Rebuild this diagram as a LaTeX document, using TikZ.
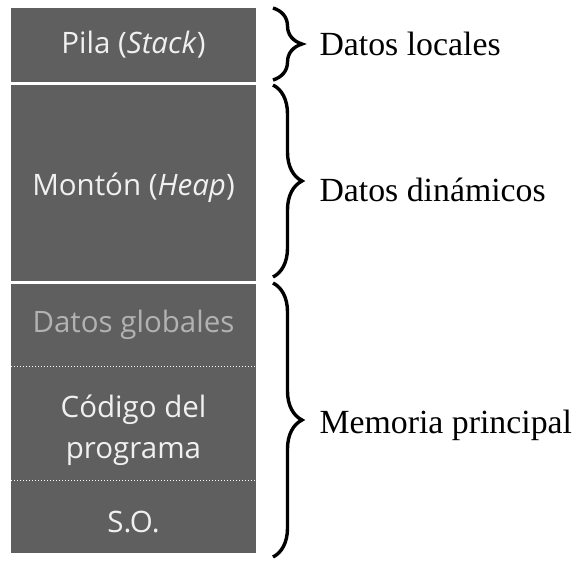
\documentclass[tikz,border=0pt]{standalone}
\usepackage{fontspec}
\setmainfont{Liberation Serif}
\newfontfamily\boxfont{Open Sans}
\usetikzlibrary{decorations.pathreplacing}
\definecolor{memgray}{HTML}{5F5F5F}
\definecolor{dimtext}{HTML}{B2B2B2}

\begin{document}
\begin{tikzpicture}[x=1pt,y=-1pt,
    block/.style={fill=memgray},
    blocktext/.style={text=white!94!black,align=center,
        font=\boxfont\fontsize{29.5}{41}\selectfont},
    curly/.style={decorate,decoration={brace,amplitude=29pt,aspect=0.5},
        line width=3.4pt},
    zone/.style={anchor=west,font=\fontsize{33.8}{40}\selectfont}]

    \useasboundingbox (0,0) rectangle (583,563);

    % Memory blocks
    \fill[block] (11,8) rectangle (256,82);
    \fill[block] (11,85) rectangle (256,281);
    \fill[block] (11,284) rectangle (256,553);

    % Dotted separators
    \draw[white,dotted,line width=1pt] (11,366) -- (256,366);
    \draw[white,dotted,line width=1pt] (11,480) -- (256,480);

    % Block labels
    \node[blocktext] (stack) at (133.5,45) {Pila (\textit{Stack})};
    \node[blocktext] (heap) at (133.5,188) {Montón (\textit{Heap})};
    \node[blocktext,text=dimtext] (global) at (133.5,325) {Datos globales};
    \node[blocktext] (code) at (133.5,430) {Código del\\programa};
    \node[blocktext] (os) at (133.5,522) {S.O.};

    % Braces
    \coordinate (sTop) at (273,8);
    \coordinate (sBot) at (273,80);
    \coordinate (hTop) at (273,85);
    \coordinate (hBot) at (273,277);
    \coordinate (mTop) at (273,283);
    \coordinate (mBot) at (273,557);
    \draw[curly] (sTop) -- (sBot);
    \draw[curly] (hTop) -- (hBot);
    \draw[curly] (mTop) -- (mBot);

    % Zone labels
    \node[zone] (local) at (316,44) {Datos locales};
    \node[zone] (dynamic) at (316,190) {Datos dinámicos};
    \node[zone] (main) at (316,425) {Memoria principal};

\end{tikzpicture}
\end{document}
